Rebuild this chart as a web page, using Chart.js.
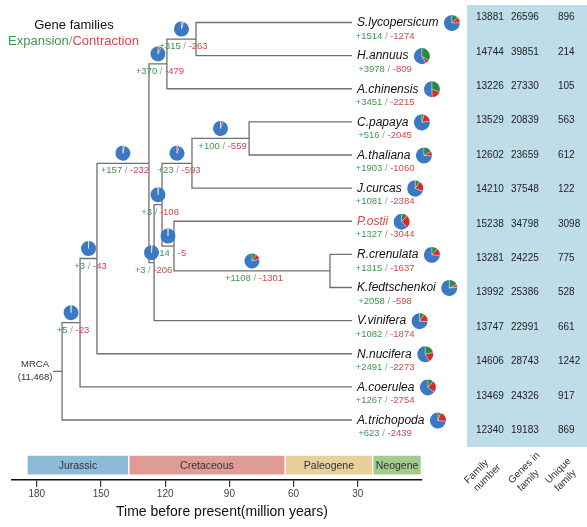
<!DOCTYPE html>
<html><head><meta charset="utf-8">
<script src="https://cdn.jsdelivr.net/npm/chart.js@4.4.1/dist/chart.umd.min.js"></script>
<style>html,body{margin:0;padding:0;background:#fff;}#wrap{width:587px;height:527px;position:relative;}</style>
</head><body><div id="wrap"><canvas id="c" width="587" height="527"></canvas></div>
<script>
// ---------- data ----------
const species = ['S.lycopersicum','H.annuus','A.chinensis','C.papaya','A.thaliana','J.curcas','P.ostii','R.crenulata','K.fedtschenkoi','V.vinifera','N.nucifera','A.coerulea','A.trichopoda'];
const highlightSpecies = ['P.ostii'];
const leafGain = [1514,3978,3451,516,1903,1081,1327,1315,2058,1082,2491,1267,623];
const leafLoss = [1274,809,2215,2045,1060,2384,3044,1637,598,1874,2273,2754,2439];
const familyNumber = [13881,14744,13226,13529,12602,14210,15238,13281,13992,13747,14606,13469,12340];
const genesInFamily = [26596,39851,27330,20839,23659,37548,34798,24225,25386,22991,28743,24326,19183];
const uniqueFamily = [896,214,105,563,612,122,3098,775,528,661,1242,917,869];
const tableHeaders = [['Family','number'],['Genes in','family'],['Unique','family']];

const leafAge = 32.7;
const nodeIds = ['A','B','C','D','RK','E','F','G','H','I','J','ROOT'];
const nodeAge = [105.6,119.2,80.8,107.5,43.0,115.9,121.5,125.2,127.6,151.9,159.8,168.2];
const nodeChildren = [[0,1],['A',2],[3,4],['C',5],[7,8],[6,'RK'],['D','E'],['F',9],['B','G'],['H',10],['I',11],['J',12]];
const nodeGain = [315,370,100,23,1108,14,3,3,157,3,5,null];
const nodeLoss = [263,479,559,593,1301,5,108,206,232,43,23,null];
const mrcaFamilies = 11468;
const rootStubAge = 172.4;

const periodNames = ['Jurassic','Cretaceous','Paleogene','Neogene'];
const periodStart = [184.6,137.0,64.0,23.0];
const periodEnd = [137.0,64.0,23.0,0.3];
const periodColors = ['#8fbad6','#df9c97','#e8d09d','#a2cb8d'];
const timeTicks = [180,150,120,90,60,30];

// ---------- derived ----------
const yOf = {}, ageOf = {}, parentOf = {};
species.forEach((s,i)=>{ yOf[i]=i; ageOf[i]=leafAge; });
nodeIds.forEach((id,k)=>{
  const ch = nodeChildren[k];
  yOf[id] = (yOf[ch[0]]+yOf[ch[1]])/2; ageOf[id] = nodeAge[k];
  ch.forEach(c=>parentOf[c]=id);
});
const branchPoints = [];
nodeIds.forEach((id,k)=>{
  nodeChildren[k].forEach(c=>{
    branchPoints.push({x:ageOf[id],y:yOf[id]},{x:ageOf[id],y:yOf[c]},{x:ageOf[c],y:yOf[c]},{x:ageOf[c],y:null});
  });
});
branchPoints.push({x:rootStubAge,y:yOf.ROOT},{x:ageOf.ROOT,y:yOf.ROOT});
const bandRow = 13.36;

const FONT = '"Liberation Sans", Arial, sans-serif';
const GREEN = '#3f9650', RED = '#d24848', SLASH = '#9a9a9a';
const PIE_BLUE = '#3b79c3', PIE_GREEN = '#2b8a3c', PIE_RED = '#d9292b';

function drawPie(ctx, cx, cy, r, g, l){
  const parts = [[g,PIE_GREEN],[l,PIE_RED],[1-g-l,PIE_BLUE]];
  let a = -Math.PI/2;
  parts.forEach(([f,col])=>{
    const b = a + f*2*Math.PI;
    ctx.beginPath(); ctx.moveTo(cx,cy); ctx.arc(cx,cy,r,a,b); ctx.closePath();
    ctx.fillStyle = col; ctx.fill();
    a = b;
  });
  a = -Math.PI/2;
  ctx.strokeStyle = 'rgba(255,255,255,0.7)'; ctx.lineWidth = 0.6;
  [g,l].forEach(f=>{
    ctx.beginPath(); ctx.moveTo(cx,cy); ctx.lineTo(cx+r*Math.cos(a),cy+r*Math.sin(a)); ctx.stroke();
    a += f*2*Math.PI;
  });
  ctx.beginPath(); ctx.moveTo(cx,cy); ctx.lineTo(cx+r*Math.cos(a),cy+r*Math.sin(a)); ctx.stroke();
}
function drawGainLoss(ctx, cx, cy, g, l, size){
  ctx.font = size+'px '+FONT;
  const p = [['+'+g,GREEN],[' / ',SLASH],['-'+l,RED]];
  const w = p.reduce((s,q)=>s+ctx.measureText(q[0]).width,0);
  let x = cx - w/2;
  ctx.textAlign='left'; ctx.textBaseline='middle';
  p.forEach(([t,c])=>{ ctx.fillStyle=c; ctx.fillText(t,x,cy); x+=ctx.measureText(t).width; });
}

const overlay = {
  id:'overlay',
  beforeDraw(chart){
    const ctx = chart.ctx;
    ctx.save();
    ctx.fillStyle = '#bedde9';
    ctx.fillRect(467,5,120,442);
    ctx.restore();
  },
  afterDraw(chart){
    const ctx = chart.ctx, xs = chart.scales.x, ys = chart.scales.y;
    const px = v=>xs.getPixelForValue(v), py = v=>ys.getPixelForValue(v);
    ctx.save();
    // legend
    ctx.textBaseline='middle'; ctx.textAlign='center';
    ctx.font = '13px '+FONT; ctx.fillStyle='#111';
    ctx.fillText('Gene families',74,25);
    const lp = [['Expansion',GREEN],['/',SLASH],['Contraction',RED]];
    const lw = lp.reduce((s,q)=>s+ctx.measureText(q[0]).width,0);
    let lx = 73.5 - lw/2; ctx.textAlign='left';
    lp.forEach(([t,c])=>{ctx.fillStyle=c; ctx.fillText(t,lx,41); lx+=ctx.measureText(t).width;});

    // periods labels
    const bandY = py(bandRow);
    ctx.font = '10.5px '+FONT; ctx.fillStyle='#333'; ctx.textAlign='center';
    periodNames.forEach((n,i)=>{ ctx.fillText(n,(px(periodStart[i])+px(periodEnd[i]))/2,bandY+1); });

    // axis title
    ctx.font = '14px '+FONT; ctx.fillStyle='#111';
    ctx.fillText('Time before present(million years)',222,512);

    // MRCA
    const rx = px(rootStubAge), ry = py(yOf.ROOT);
    ctx.font = '9.5px '+FONT; ctx.fillStyle='#333';
    ctx.fillText('MRCA',rx-18,ry-7);
    ctx.fillText('('+mrcaFamilies.toLocaleString('en-US')+')',rx-18,ry+6.5);

    // internal nodes
    nodeIds.forEach((id,k)=>{
      if (nodeGain[k]===null) return;
      const par = parentOf[id];
      const mx = (px(ageOf[par])+px(ageOf[id]))/2, by = py(yOf[id]);
      drawPie(ctx, mx, by-10, 7.5, nodeGain[k]/mrcaFamilies, nodeLoss[k]/mrcaFamilies);
      drawGainLoss(ctx, mx+2, by+7.5, nodeGain[k], nodeLoss[k], 9.5);
    });

    // leaves
    species.forEach((s,i)=>{
      const lx0 = px(leafAge)+5, y = py(i);
      ctx.font = 'italic 12px '+FONT; ctx.textAlign='left'; ctx.textBaseline='middle';
      ctx.fillStyle = highlightSpecies.includes(s) ? '#d8434a' : '#111';
      ctx.fillText(s,lx0,y+0.5);
      const w = ctx.measureText(s).width;
      drawPie(ctx, lx0+w+13.5, y+0.5, 8, leafGain[i]/mrcaFamilies, leafLoss[i]/mrcaFamilies);
      drawGainLoss(ctx, lx0+28, y+13.5, leafGain[i], leafLoss[i], 9.5);
    });

    // table
    const colX = [476,511,558], rowTop = 17.5, rowStep = 34.4;
    ctx.font = '10px '+FONT; ctx.fillStyle='#222'; ctx.textAlign='left'; ctx.textBaseline='middle';
    species.forEach((s,i)=>{
      const y = rowTop + i*rowStep;
      ctx.fillText(String(familyNumber[i]),colX[0],y);
      ctx.fillText(String(genesInFamily[i]),colX[1],y);
      ctx.save(); ctx.beginPath(); ctx.rect(colX[2]-2,y-8,(uniqueFamily[i]===105?19:40),16); ctx.clip();
      ctx.fillText(String(uniqueFamily[i]),colX[2],y);
      ctx.restore();
    });
    // headers
    const hdrX = [468,512,549], hdrY = 484;
    ctx.fillStyle='#333'; ctx.font='10px '+FONT; ctx.textBaseline='alphabetic';
    tableHeaders.forEach((h,j)=>{
      ctx.save(); ctx.translate(hdrX[j],hdrY); ctx.rotate(-Math.PI/4);
      h.forEach((t,q)=>ctx.fillText(t,q*1,q*12));
      ctx.restore();
    });
    ctx.restore();
  }
};

new Chart(document.getElementById('c'),{
  type:'scatter',
  data:{datasets:[
    {type:'bar', label:'Geologic periods', indexAxis:'y', xAxisID:'x', yAxisID:'y',
     data: periodNames.map((n,i)=>({x:[periodStart[i],periodEnd[i]], y:bandRow})),
     backgroundColor: periodColors, borderColor:'rgba(255,255,255,0.95)', borderWidth:1, borderSkipped:false, barThickness:20, order:2},
    {type:'line', label:'Tree', data: branchPoints, xAxisID:'x', yAxisID:'y',
     borderColor:'#707070', borderWidth:1.3, pointRadius:0, showLine:true, fill:false, tension:0, spanGaps:false, order:1,
     borderJoinStyle:'miter', borderCapStyle:'butt'}
  ]},
  options:{
    responsive:false, animation:false, events:[],
    layout:{padding:{left:12,right:165,top:0,bottom:0}},
    plugins:{legend:{display:false},tooltip:{enabled:false}},
    scales:{
      x:{type:'linear', reverse:true, min:0, max:191.6, offset:false,
         afterFit(s){ s.height = 47; },
         afterBuildTicks(s){ s.ticks = timeTicks.map(v=>({value:v})); },
         grid:{drawOnChartArea:false, drawTicks:true, tickLength:7, color:'#333', lineWidth:1.2, offset:false},
         border:{display:true, color:'#111', width:1.5},
         ticks:{font:{size:10,family:FONT}, color:'#444', padding:1, maxRotation:0, autoSkip:false}},
      y:{type:'linear', reverse:true, min:-0.679, max:13.811, display:false, offset:false, grid:{offset:false}}
    }
  },
  plugins:[overlay]
});
</script></body></html>
